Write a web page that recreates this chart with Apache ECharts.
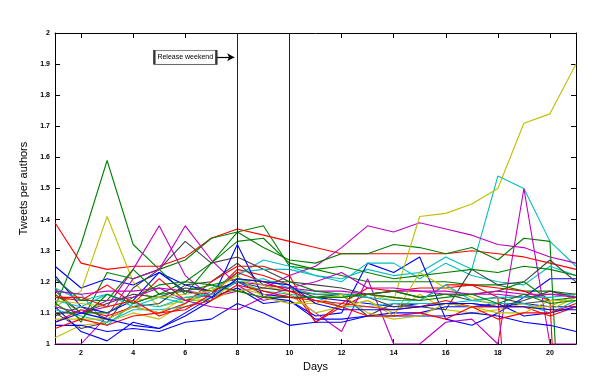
<!DOCTYPE html>
<html>
<head>
<meta charset="utf-8">
<script src="https://cdn.jsdelivr.net/npm/echarts@6/dist/echarts.min.js"></script>
<style>html,body{margin:0;padding:0;background:#fff}#c{width:616px;height:384px}</style>
</head>
<body>
<div id="c"></div>
<script>
var days = [1,2,3,4,5,6,7,8,9,10,11,12,13,14,15,16,17,18,19,20,21];
var xTicks = [2,4,6,8,10,12,14,16,18,20];
var releaseDays = [8, 10];
var annotationText = 'Release weekend';

var blue1 = [1.25,1.18,1.21,1.19,1.23,1.19,1.17,1.20,1.16,1.15,1.15,1.14,1.13,1.12,1.13,1.13,1.12,1.12,1.13,1.12,1.12];
var blue2 = [1.22,1.12,1.10,1.14,1.23,1.17,1.15,1.18,1.13,1.14,1.09,1.10,1.26,1.23,1.28,1.08,1.06,1.10,1.15,1.21,1.21];
var blue3 = [1.12,1.04,1.01,1.07,1.05,1.09,1.14,1.32,1.15,1.14,1.08,1.08,1.09,1.10,1.10,1.12,1.12,1.13,1.09,1.10,1.12];
var blue4 = [1.06,1.06,1.04,1.05,1.04,1.07,1.08,1.13,1.10,1.06,1.07,1.07,1.09,1.09,1.09,1.09,1.10,1.09,1.07,1.06,1.04];
var blue5 = [1.07,1.10,1.08,1.06,1.05,1.10,1.15,1.21,1.20,1.19,1.13,1.11,1.11,1.11,1.12,1.13,1.13,1.12,1.12,1.11,1.11];

var green1 = [1.12,1.32,1.59,1.32,1.24,1.16,1.26,1.36,1.38,1.25,1.24,1.22,1.20,1.20,1.20,1.20,1.19,1.19,1.17,1.17,1.16];
var green2 = [1.18,1.07,1.23,1.21,1.24,1.27,1.34,1.36,1.31,1.27,1.26,1.29,1.29,1.32,1.31,1.29,1.31,1.27,1.34,1.33,-0.3];
var green3 = [1.21,1.14,1.14,1.24,1.16,1.20,1.26,1.33,1.34,1.26,1.24,1.25,1.23,1.21,1.22,1.23,1.24,1.23,1.25,1.24,1.22];
var green4 = [1.16,1.10,1.10,1.15,1.19,1.20,1.19,1.21,1.20,1.20,1.17,1.16,1.16,1.17,1.15,1.16,1.16,1.17,1.20,1.14,1.15];
var green5 = [1.13,1.08,1.16,1.13,1.16,1.17,1.19,1.17,1.15,1.15,1.15,1.15,1.16,1.15,1.14,1.15,1.16,1.13,1.16,1.13,1.14];

var red1 = [1.39,1.26,1.24,1.25,1.25,1.28,1.34,1.37,1.35,1.33,1.31,1.29,1.29,1.29,1.29,1.29,1.30,1.29,1.28,1.26,1.24];
var red2 = [1.15,1.14,1.19,1.13,1.21,1.14,1.16,1.24,1.22,1.19,1.07,1.13,1.18,1.17,1.18,1.18,1.19,1.15,0.1,0.1,0.1];
var red3 = [1.07,1.11,1.09,1.12,1.10,1.13,1.20,1.25,1.25,1.22,1.07,1.12,1.16,1.15,1.14,1.19,1.19,1.18,1.17,1.14,-0.5];
var red4 = [1.05,1.08,1.06,1.09,1.10,1.11,1.16,1.23,1.20,1.17,1.14,1.13,1.12,1.11,1.12,1.14,1.12,1.12,1.12,1.09,1.12];
var red5 = [1.15,1.15,1.12,1.14,1.09,1.12,1.14,1.19,1.17,1.15,1.14,1.12,1.09,1.09,1.10,1.08,1.12,1.08,1.10,1.10,1.13];

var cyan1 = [1.17,1.16,1.06,1.13,1.16,1.14,1.18,1.22,1.27,1.25,1.22,1.21,1.24,1.22,1.23,1.28,1.24,1.54,1.50,1.33,1.25];
var cyan2 = [1.18,1.14,1.16,1.12,1.15,1.13,1.17,1.23,1.24,1.24,1.22,1.20,1.26,1.26,1.21,1.26,1.22,1.20,1.19,1.25,1.22];
var cyan3 = [1.11,1.09,1.07,1.11,1.11,1.12,1.15,1.20,1.17,1.16,1.15,1.12,1.12,1.13,1.13,1.13,1.14,1.13,1.13,1.10,1.14];
var cyan4 = [1.14,1.12,1.16,1.13,1.12,1.15,1.16,1.20,1.21,1.18,1.16,1.16,1.15,1.14,1.14,1.19,1.14,1.15,1.15,1.15,1.16];

var magenta1 = [1.17,1.10,1.12,1.24,1.38,1.22,1.15,1.17,1.18,1.22,1.25,1.31,1.38,1.36,1.39,1.37,1.35,1.32,1.31,1.28,1.26];
var magenta2 = [1.00,1.00,1.09,1.21,1.24,1.38,1.27,1.19,1.14,1.16,1.10,1.04,1.21,1.00,1.00,1.07,1.08,1.00,1.50,1.00,1.00];
var magenta3 = [1.17,1.16,1.17,1.17,1.18,1.17,1.16,1.20,1.19,1.18,1.17,1.17,1.16,1.17,1.17,1.16,1.16,1.16,1.15,1.16,1.16];
var magenta4 = [1.12,1.10,1.14,1.15,1.18,1.14,1.12,1.11,1.15,1.18,1.20,1.23,1.18,1.18,1.17,1.17,1.16,1.17,1.16,1.16,1.15];

var yellow1 = [1.12,1.17,1.41,1.20,1.12,1.14,1.14,1.18,1.16,1.13,1.14,1.12,1.14,1.10,1.16,1.11,1.10,1.11,1.13,1.11,1.15];
var yellow2 = [1.02,1.06,1.07,1.10,1.08,1.13,1.18,1.17,1.18,1.18,1.16,1.15,1.16,1.14,1.41,1.42,1.45,1.50,1.71,1.74,1.90];
var yellow3 = [1.08,1.08,1.08,1.12,1.10,1.15,1.14,1.21,1.19,1.16,1.10,1.12,1.14,1.09,1.23,1.18,1.15,1.12,1.12,1.12,1.16];
var yellow4 = [1.14,1.13,1.12,1.14,1.15,1.16,1.17,1.22,1.15,1.13,1.13,1.16,1.10,1.08,1.09,1.13,1.12,1.10,1.10,1.14,1.14];

var gray1 = [1.10,1.05,1.07,1.18,1.24,1.33,1.26,1.28,1.24,1.20,1.19,1.18,1.16,1.17,1.15,1.16,1.14,1.15,1.13,1.14,1.14];
var gray2 = [1.09,1.12,1.08,1.12,1.13,1.19,1.20,1.26,1.19,1.18,1.15,1.16,1.09,1.13,1.12,1.11,1.24,1.19,1.20,1.27,1.20];
var gray3 = [1.10,1.10,1.13,1.16,1.15,1.18,1.17,1.20,1.18,1.17,1.16,1.16,1.15,1.12,1.12,1.13,1.13,1.12,1.14,1.17,1.15];

var C = {b:'#0000ff', g:'#008000', r:'#ff0000', c:'#00bfbf', m:'#bf00bf', y:'#bfbf00', k:'#404040'};
var lines = [
  [blue1,'b'],[green1,'g'],[red1,'r'],[cyan1,'c'],[magenta1,'m'],[yellow1,'y'],[gray1,'k'],
  [blue2,'b'],[green2,'g'],[red2,'r'],[cyan2,'c'],[magenta2,'m'],[yellow2,'y'],[gray2,'k'],
  [blue3,'b'],[green3,'g'],[red3,'r'],[cyan3,'c'],[magenta3,'m'],[yellow3,'y'],[gray3,'k'],
  [blue4,'b'],[green4,'g'],[red4,'r'],[cyan4,'c'],[magenta4,'m'],[yellow4,'y'],
  [blue5,'b'],[green5,'g'],[red5,'r']
];

var series = lines.map(function(l, i){
  return {
    type:'line', symbol:'none', silent:true, animation:false, clip:true,
    data: days.map(function(d, j){ return [d, l[0][j]]; }),
    lineStyle:{color:C[l[1]], width:1.1},
    itemStyle:{color:C[l[1]]}
  };
});

series.push({
  type:'line', data:[], symbol:'none', silent:true, animation:false,
  markLine:{
    silent:true, symbol:['none','none'], label:{show:false},
    lineStyle:{color:'#222', width:1, type:'solid'},
    data: releaseDays.map(function(d){ return {xAxis:d}; })
  }
});
series.push({
  type:'line', data:[], symbol:'none', silent:true, animation:false,
  markLine:{
    silent:true, symbol:['none','arrow'], symbolSize:[6,7], label:{show:false},
    lineStyle:{color:'#000', width:1.2, type:'solid'},
    data:[[{coord:[7.2,1.922]},{coord:[7.88,1.922]}]]
  },
  markPoint:{
    silent:true, symbol:'rect', symbolSize:[62,14],
    itemStyle:{color:'#fff', borderColor:'#333', borderWidth:1, shadowColor:'rgba(0,0,0,0.35)', shadowBlur:1, shadowOffsetX:0.5, shadowOffsetY:0.5},
    label:{show:true, position:'inside', formatter:annotationText, fontSize:7, color:'#000', fontFamily:'Liberation Sans, Arial, sans-serif'},
    data:[{coord:[6.0,1.922]}]
  }
});

var tickFont = {fontSize:7, color:'#000', fontFamily:'Liberation Sans, Arial, sans-serif', fontWeight:'bold'};
var chart = echarts.init(document.getElementById('c'), null, {renderer:'canvas'});
chart.setOption({
  backgroundColor:'#fff',
  animation:false,
  grid:{left:55, right:40, top:33, bottom:40, containLabel:false},
  xAxis:[{
    type:'value', min:1, max:21, position:'bottom',
    name:'Days', nameLocation:'middle', nameGap:14,
    nameTextStyle:{fontSize:11, color:'#000', fontFamily:'Liberation Sans, Arial, sans-serif'},
    axisLine:{show:true, onZero:false, lineStyle:{color:'#000', width:1}},
    axisTick:{show:true, inside:true, length:5, customValues:xTicks, lineStyle:{color:'#000'}},
    axisLabel:Object.assign({show:true, margin:6, customValues:xTicks}, tickFont),
    splitLine:{show:false}
  },{
    type:'value', min:1, max:21, position:'top',
    axisLine:{show:true, onZero:false, lineStyle:{color:'#000', width:1}},
    axisTick:{show:true, inside:true, length:5, customValues:xTicks, lineStyle:{color:'#000'}},
    axisLabel:{show:false}, splitLine:{show:false}
  }],
  yAxis:[{
    type:'value', min:1, max:2, interval:0.1, position:'left',
    name:'Tweets per authors', nameLocation:'middle', nameGap:24,
    nameTextStyle:{fontSize:11, color:'#000', fontFamily:'Liberation Sans, Arial, sans-serif'},
    axisLine:{show:true, onZero:false, lineStyle:{color:'#000', width:1}},
    axisTick:{show:true, inside:true, length:5, lineStyle:{color:'#000'}},
    axisLabel:Object.assign({show:true, margin:5, formatter:function(v){ return String(+v.toFixed(1)); }}, tickFont),
    splitLine:{show:false}
  },{
    type:'value', min:1, max:2, interval:0.1, position:'right',
    axisLine:{show:true, onZero:false, lineStyle:{color:'#000', width:1}},
    axisTick:{show:true, inside:true, length:5, lineStyle:{color:'#000'}},
    axisLabel:{show:false}, splitLine:{show:false}
  }],
  series: series
});
</script>
</body>
</html>
